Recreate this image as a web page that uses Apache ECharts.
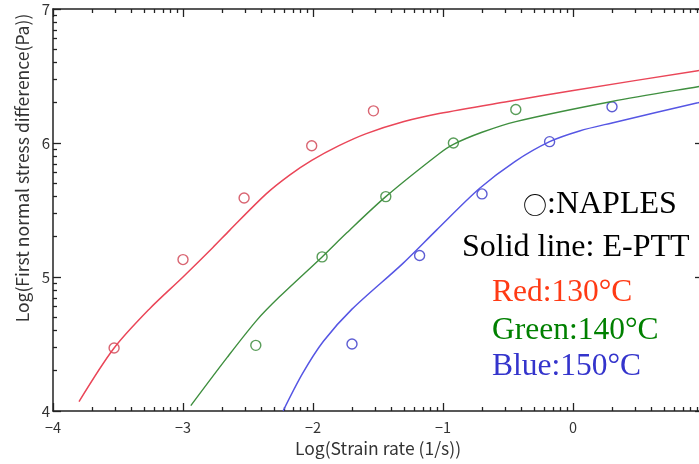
<!DOCTYPE html>
<html>
<head>
<meta charset="utf-8">
<script src="https://cdn.jsdelivr.net/npm/echarts@6/dist/echarts.min.js"></script>
<style>
  html, body { margin: 0; padding: 0; background: #fff; }
  #chart { width: 699px; height: 464px; }
</style>
</head>
<body>
<div id="chart"></div>
<script>
// Measured first normal stress difference (NAPLES), log10 strain rate vs log10 N1
const naples130 = [[-3.53, 4.47], [-3.00, 5.13], [-2.53, 5.59], [-2.01, 5.98], [-1.535, 6.24]];
const naples140 = [[-2.44, 4.49], [-1.93, 5.15], [-1.44, 5.60], [-0.92, 6.00], [-0.44, 6.25]];
const naples150 = [[-1.70, 4.50], [-1.18, 5.16], [-0.70, 5.62], [-0.18, 6.01], [0.30, 6.27]];

// E-PTT model curves
const eptt130 = [[-3.80, 4.07], [-3.53, 4.47], [-3.26, 4.76], [-3.00, 5.00], [-2.77, 5.22],
  [-2.64, 5.35], [-2.36, 5.62], [-2.18, 5.76], [-2.01, 5.87], [-1.80, 5.98], [-1.59, 6.07],
  [-1.30, 6.16], [-1.03, 6.22], [-0.50, 6.31], [-0.01, 6.39], [0.96, 6.54], [1.00, 6.545]];
const eptt140 = [[-2.94, 4.04], [-2.66, 4.40], [-2.43, 4.68], [-2.26, 4.85], [-1.93, 5.15],
  [-1.74, 5.33], [-1.44, 5.60], [-1.03, 5.92], [-0.92, 5.99], [-0.70, 6.08], [-0.44, 6.16],
  [0.30, 6.31], [0.96, 6.42], [1.00, 6.425]];
const eptt150 = [[-2.23, 4.00], [-2.08, 4.28], [-1.92, 4.52], [-1.70, 4.76], [-1.31, 5.10],
  [-1.05, 5.35], [-0.72, 5.66], [-0.45, 5.86], [-0.18, 6.01], [0.05, 6.09], [0.30, 6.15],
  [0.96, 6.30], [1.00, 6.31]];

// Axis ticks (decades) and their labels
const xMajor = [-4, -3, -2, -1, 0, 1];
const yMajor = [4, 5, 6, 7];
const xTickLabels = ['−4', '−3', '−2', '−1', '0', '1'];
const yTickLabels = ['4', '5', '6', '7'];

// Logarithmic minor ticks inside each decade (log10 2 … log10 9)
function minorTicks(majors) {
  const out = [];
  for (let i = 0; i < majors.length - 1; i++) {
    for (let k = 2; k <= 9; k++) out.push(majors[i] + Math.log10(k));
  }
  return out;
}
const xMinor = minorTicks(xMajor);
const yMinor = minorTicks(yMajor);

const xRange = [-4, 1];
const yRange = [4, 7];
const MAJOR_LEN = 8, MINOR_LEN = 4;

const axisColor = '#222';
const labelFont = '"Noto Sans CJK JP", "Noto Sans", sans-serif';
const serif = '"Liberation Serif", "Times New Roman", serif';

// One axis per frame side and tick class (major / minor)
function axisDef(pos, range, ticks, len, opts) {
  return Object.assign({
    type: 'value', position: pos, min: range[0], max: range[1], interval: 1,
    axisLine: { show: true, onZero: false, lineStyle: { color: axisColor, width: 1.5 } },
    axisTick: { show: true, inside: true, length: len, customValues: ticks,
      lineStyle: { color: axisColor, width: 1.3 } },
    axisLabel: { show: false },
    splitLine: { show: false }
  }, opts || {});
}
const hiddenLine = { show: false, onZero: false };

const notes = [
  { type: 'text', left: 523, top: 189, z: 10,
    style: { text: '{c|○}{t|:NAPLES}', rich: {
      c: { fontFamily: '"Noto Sans CJK JP", sans-serif', fontSize: 24, fill: '#000' },
      t: { fontFamily: serif, fontSize: 32, fill: '#000' } } } },
  { type: 'text', left: 462, top: 232, z: 10,
    style: { text: 'Solid line: E-PTT', fontFamily: serif, fontSize: 32, fill: '#000' } },
  { type: 'text', left: 492, top: 277, z: 10,
    style: { text: 'Red:130°C', fontFamily: serif, fontSize: 31.5, fill: '#ff3a14' } },
  { type: 'text', left: 492, top: 315, z: 10,
    style: { text: 'Green:140°C', fontFamily: serif, fontSize: 31.5, fill: '#008000' } },
  { type: 'text', left: 492, top: 351, z: 10,
    style: { text: 'Blue:150°C', fontFamily: serif, fontSize: 31.5, fill: '#3434cc' } }
];

const chart = echarts.init(document.getElementById('chart'), null, { renderer: 'canvas' });

chart.setOption({
  animation: false,
  backgroundColor: '#fff',
  grid: {
    left: 53, width: 650, top: 9, height: 402,
    containLabel: false, outerBoundsMode: 'none'
  },
  xAxis: [
    axisDef('bottom', xRange, xMajor, MAJOR_LEN, {
      name: 'Log(Strain rate (1/s))',
      nameLocation: 'middle', nameGap: 29,
      nameTextStyle: { fontFamily: labelFont, fontSize: 17.5, color: '#333' },
      axisLabel: {
        show: true, margin: 9, fontFamily: labelFont, fontSize: 14.5, color: '#333',
        customValues: xMajor,
        formatter: v => xTickLabels[xMajor.indexOf(v)]
      }
    }),
    axisDef('bottom', xRange, xMinor, MINOR_LEN, { axisLine: hiddenLine }),
    axisDef('top', xRange, xMajor, MAJOR_LEN),
    axisDef('top', xRange, xMinor, MINOR_LEN, { axisLine: hiddenLine })
  ],
  yAxis: [
    axisDef('left', yRange, yMajor, MAJOR_LEN, {
      name: 'Log(First normal stress difference(Pa))',
      nameLocation: 'middle', nameGap: 19,
      nameTextStyle: { fontFamily: labelFont, fontSize: 17.5, color: '#333', padding: [0, 0, 0, 84] },
      axisLabel: {
        show: true, margin: 3, fontFamily: labelFont, fontSize: 15, color: '#333',
        customValues: yMajor,
        formatter: v => yTickLabels[yMajor.indexOf(v)]
      }
    }),
    axisDef('left', yRange, yMinor, MINOR_LEN, { axisLine: hiddenLine }),
    axisDef('right', yRange, yMajor, MAJOR_LEN),
    axisDef('right', yRange, yMinor, MINOR_LEN, { axisLine: hiddenLine })
  ],
  series: [
    { name: 'E-PTT 130', type: 'line', data: eptt130, showSymbol: false, smooth: 0.3,
      lineStyle: { color: '#ea4658', width: 1.5 } },
    { name: 'E-PTT 140', type: 'line', data: eptt140, showSymbol: false, smooth: 0.3,
      lineStyle: { color: '#3f8f3f', width: 1.4 } },
    { name: 'E-PTT 150', type: 'line', data: eptt150, showSymbol: false, smooth: 0.3,
      lineStyle: { color: '#5656e4', width: 1.5 } },
    { name: 'NAPLES 130', type: 'scatter', data: naples130, symbol: 'circle', symbolSize: 10,
      itemStyle: { color: 'rgba(0,0,0,0)', borderColor: '#cf3f4f', borderWidth: 1.4 } },
    { name: 'NAPLES 140', type: 'scatter', data: naples140, symbol: 'circle', symbolSize: 10,
      itemStyle: { color: 'rgba(0,0,0,0)', borderColor: '#2f852f', borderWidth: 1.4 } },
    { name: 'NAPLES 150', type: 'scatter', data: naples150, symbol: 'circle', symbolSize: 10,
      itemStyle: { color: 'rgba(0,0,0,0)', borderColor: '#3535c8', borderWidth: 1.4 } }
  ],
  graphic: notes
});
</script>
</body>
</html>
